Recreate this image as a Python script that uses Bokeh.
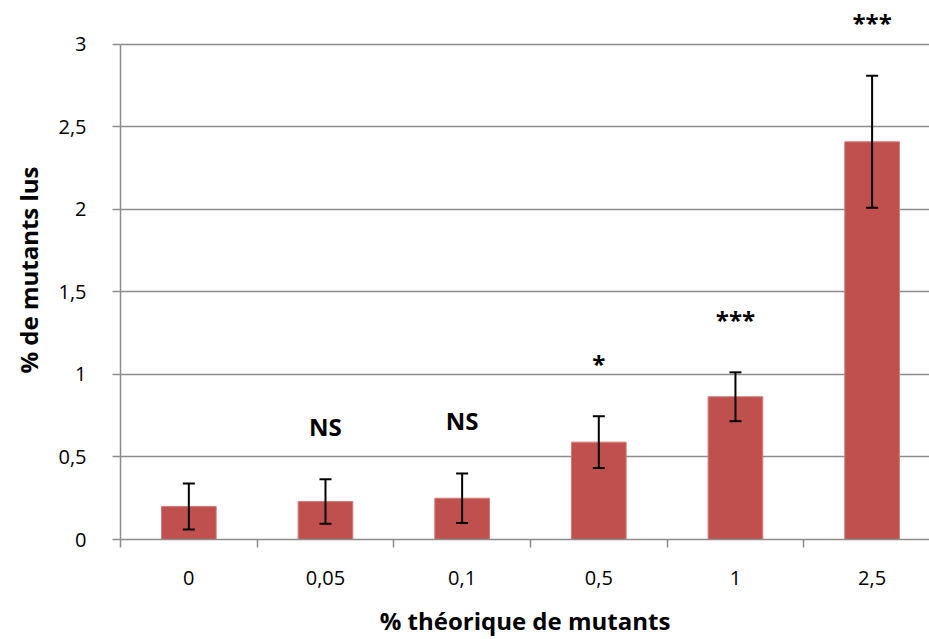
from bokeh.plotting import figure
from bokeh.models import (ColumnDataSource, Range1d, FixedTicker, Whisker, TeeHead,
                          LabelSet, CustomJSTickFormatter)
from bokeh.core.properties import value
from bokeh.embed import file_html
from bokeh.resources import INLINE

categories = ["0", "0,05", "0,1", "0,5", "1", "2,5"]
means = [0.20, 0.23, 0.25, 0.59, 0.865, 2.41]
errors = [0.14, 0.135, 0.15, 0.157, 0.148, 0.40]
significance = ["", "NS", "NS", "*", "***", "***"]
y_ticks = [0, 0.5, 1, 1.5, 2, 2.5, 3]

xs = [i + 0.5 for i in range(len(categories))]
upper = [m + e for m, e in zip(means, errors)]
lower = [m - e for m, e in zip(means, errors)]
src = ColumnDataSource(dict(x=xs, top=means, upper=upper, lower=lower, sig=significance))

GRID = "#8c8c8c"
FONT = "Open Sans"
Y_MAX = y_ticks[-1]
# the frame extends above the last tick (room for the top annotation)
y_top = Y_MAX * 540.0 / 496.0

p = figure(width=929, height=639, output_backend="svg", toolbar_location=None,
           x_range=Range1d(0, 5.92), y_range=Range1d(0, y_top),
           min_border_left=120, min_border_right=0, min_border_top=0, min_border_bottom=99)
p.outline_line_color = None
p.background_fill_color = "white"
p.border_fill_color = "white"

p.vbar(x="x", top="top", bottom=0, width=0.40, source=src,
       fill_color="#C0504D", line_color="#D27B78", line_width=1)

w = Whisker(base="x", upper="upper", lower="lower", source=src, level="overlay",
            line_color="black", line_width=2,
            upper_head=TeeHead(size=12, line_color="black", line_width=2),
            lower_head=TeeHead(size=12, line_color="black", line_width=2))
p.add_layout(w)

labels = LabelSet(x="x", y="upper", text="sig", source=src, y_offset=53, level="overlay",
                  text_align="center", text_baseline="middle",
                  text_font=value(FONT), text_font_size="24px", text_font_style="bold",
                  text_color="black")
p.add_layout(labels)

# y axis
p.yaxis.ticker = FixedTicker(ticks=y_ticks)
p.yaxis.bounds = (0, Y_MAX)
p.yaxis.formatter = CustomJSTickFormatter(code="return tick.toString().replace('.', ',');")
p.yaxis.major_tick_in = 0
p.yaxis.major_tick_out = 8
p.yaxis.minor_tick_line_color = None
p.yaxis.axis_line_color = GRID
p.yaxis.axis_line_width = 1.5
p.yaxis.major_tick_line_color = GRID
p.yaxis.major_tick_line_width = 1.5
p.yaxis.major_label_text_font = FONT
p.yaxis.major_label_text_font_size = "20px"
p.yaxis.major_label_text_color = "black"
p.yaxis.major_label_standoff = 26
p.yaxis.axis_label = "% de mutants lus"
p.yaxis.axis_label_text_font = FONT
p.yaxis.axis_label_text_font_size = "24px"
p.yaxis.axis_label_text_font_style = "bold"
p.yaxis.axis_label_text_color = "black"
p.yaxis.axis_label_standoff = 10

# x axis
p.xaxis.ticker = FixedTicker(ticks=xs, minor_ticks=list(range(len(categories) + 1)))
p.xaxis.major_label_overrides = {x: c for x, c in zip(xs, categories)}
p.xaxis.major_tick_line_color = None
p.xaxis.minor_tick_in = 0
p.xaxis.minor_tick_out = 8
p.xaxis.minor_tick_line_color = GRID
p.xaxis.minor_tick_line_width = 1.5
p.xaxis.axis_line_color = GRID
p.xaxis.axis_line_width = 1.5
p.xaxis.major_label_text_font = FONT
p.xaxis.major_label_text_font_size = "20px"
p.xaxis.major_label_text_color = "black"
p.xaxis.major_label_standoff = 23
p.xaxis.axis_label = "% théorique de mutants"
p.xaxis.axis_label_text_font = FONT
p.xaxis.axis_label_text_font_size = "24px"
p.xaxis.axis_label_text_font_style = "bold"
p.xaxis.axis_label_text_color = "black"
p.xaxis.axis_label_standoff = 16

p.xgrid.grid_line_color = None
p.ygrid.ticker = FixedTicker(ticks=y_ticks)
p.ygrid.bounds = (0, Y_MAX)
p.ygrid.grid_line_color = GRID
p.ygrid.grid_line_width = 1.5

open("out.html", "w").write(file_html(p, INLINE))
